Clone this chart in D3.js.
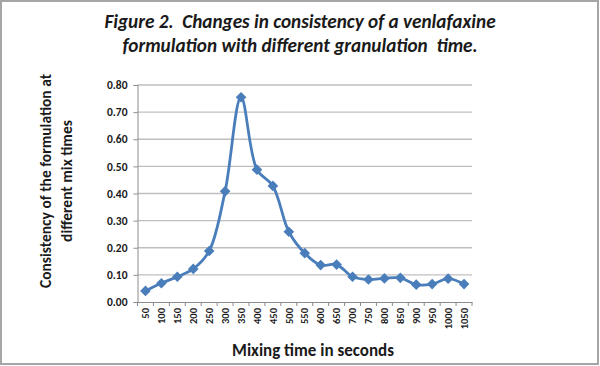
<!DOCTYPE html>
<html><head><meta charset="utf-8">
<script src="https://cdn.jsdelivr.net/npm/d3@7"></script>
<style>body{margin:0;background:#fff}svg{display:block}</style>
</head><body>
<svg id="c" width="600" height="366"></svg>
<script>
const categories = ["50","100","150","200","250","300","350","400","450","500","550","600","650","700","750","800","850","900","950","1000","1050"];
const values = [0.041,0.069,0.093,0.122,0.188,0.408,0.755,0.488,0.428,0.259,0.180,0.136,0.138,0.093,0.083,0.087,0.089,0.064,0.066,0.086,0.066];
const yTicks = [0,0.1,0.2,0.3,0.4,0.5,0.6,0.7,0.8];
const titleLines = ["Figure 2.  Changes in consistency of a venlafaxine","formulation with different granulation  time."];
const yTitleLines = ["Consistency of the formulation at","different mix times"];
const xTitle = "Mixing time in seconds";

const svg = d3.select("#c");
const font = "Carlito, Calibri, 'Open Sans', sans-serif";
const L = 137.5, R = 472, T = 85, B = 302;

svg.append("rect").attr("x",1).attr("y",1).attr("width",597).attr("height",363)
  .attr("fill","none").attr("stroke","#a6a6a6").attr("stroke-width",2);

const x = d3.scaleBand().domain(categories).range([L,R]);
const y = d3.scaleLinear().domain([0,0.8]).range([B,T]);

// gridlines
svg.append("g").selectAll("line").data(yTicks.slice(1)).join("line")
  .attr("x1",L).attr("x2",R).attr("y1",d=>y(d)).attr("y2",d=>y(d))
  .attr("stroke","#bfbfbf").attr("stroke-width",1.3);

// y axis
const ya = svg.append("g").attr("transform",`translate(${L},0)`)
  .call(d3.axisLeft(y).tickValues(yTicks).tickFormat(d3.format(".2f")).tickSize(4).tickPadding(6));
ya.select(".domain").attr("stroke","#8c8c8c");
ya.selectAll(".tick line").attr("stroke","#8c8c8c");
ya.selectAll("text").attr("font-family",font).attr("font-weight","bold").attr("font-size",11.5).attr("fill","#1a1a1a");

// x axis
const xa = svg.append("g").attr("transform",`translate(0,${B})`)
  .call(d3.axisBottom(x).tickSize(0).tickPadding(0));
xa.select(".domain").attr("stroke","#8c8c8c");
xa.selectAll(".tick line").remove();
xa.selectAll(".tick text").attr("transform","rotate(-90)").attr("text-anchor","end")
  .attr("x",-6).attr("y",0).attr("dy","0.35em")
  .attr("font-family",font).attr("font-weight","bold").attr("font-size",10.5).attr("fill","#1a1a1a");
// boundary ticks
svg.append("g").selectAll("line").data(d3.range(categories.length+1)).join("line")
  .attr("x1",i=>L+i*x.step()).attr("x2",i=>L+i*x.step()).attr("y1",B).attr("y2",B+4)
  .attr("stroke","#8c8c8c");

// line
const pts = categories.map((c,i)=>[x(c)+x.bandwidth()/2, y(values[i])]);
svg.append("path").attr("d",d3.line().curve(d3.curveCatmullRom.alpha(0.5))(pts))
  .attr("fill","none").attr("stroke","#4a7ebb").attr("stroke-width",2.8);
svg.append("g").selectAll("path").data(pts).join("path")
  .attr("d",d3.symbol(d3.symbolDiamond2,72)())
  .attr("transform",d=>`translate(${d[0]},${d[1]})`)
  .attr("fill","#4a7ebb");

// titles
svg.append("g").selectAll("text").data(titleLines).join("text")
  .attr("x",300).attr("y",(d,i)=>28+i*24).attr("text-anchor","middle")
  .attr("font-family",font).attr("font-weight","bold").attr("font-style","italic")
  .attr("font-size",19.2).attr("fill","#1a1a1a").style("white-space","pre").text(d=>d);

svg.append("g").selectAll("text").data(yTitleLines).join("text")
  .attr("transform",(d,i)=>`translate(${51+i*21},181) rotate(-90)`).attr("text-anchor","middle")
  .attr("font-family",font).attr("font-weight","bold").attr("font-size",15.5).attr("fill","#1a1a1a").text(d=>d);

svg.append("text").attr("x",313).attr("y",356).attr("text-anchor","middle")
  .attr("font-family",font).attr("font-weight","bold").attr("font-size",17).attr("fill","#1a1a1a").text(xTitle);
</script>
</body></html>
